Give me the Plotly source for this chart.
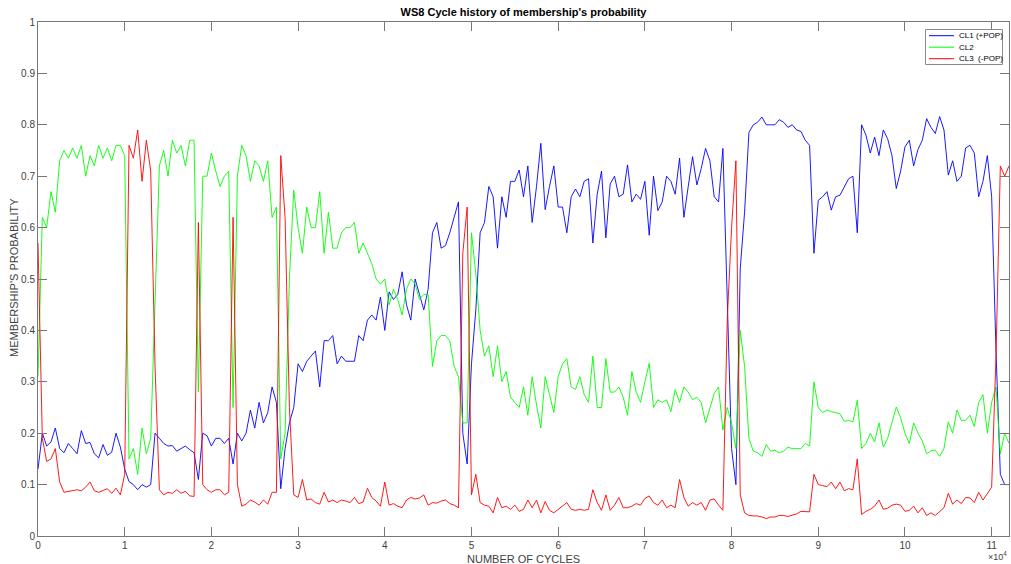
import plotly.graph_objects as go

# cycle counter (sampled every 500 cycles)
cycles = list(range(0, 112001, 500))

cl1_pop_plus = [
    0.13, 0.20, 0.175, 0.183, 0.21, 0.17, 0.162, 0.18, 0.17, 0.16,
    0.205, 0.18, 0.182, 0.16, 0.152, 0.178, 0.157, 0.163, 0.20, 0.173,
    0.13, 0.106, 0.10, 0.09, 0.10, 0.095, 0.10, 0.20, 0.19, 0.18,
    0.175, 0.176, 0.165, 0.17, 0.175, 0.168, 0.162, 0.11, 0.20, 0.195,
    0.175, 0.19, 0.19, 0.18, 0.19, 0.14, 0.20, 0.185, 0.20, 0.245,
    0.21, 0.26, 0.22, 0.24, 0.29, 0.26, 0.092, 0.17, 0.22, 0.25,
    0.335, 0.32, 0.34, 0.35, 0.36, 0.29, 0.38, 0.38, 0.39, 0.335,
    0.35, 0.34, 0.34, 0.34, 0.39, 0.38, 0.42, 0.43, 0.42, 0.465,
    0.40, 0.475, 0.46, 0.47, 0.514, 0.45, 0.42, 0.50, 0.47, 0.44,
    0.48, 0.59, 0.61, 0.56, 0.565, 0.59, 0.62, 0.65, 0.20, 0.14,
    0.335, 0.44, 0.59, 0.61, 0.68, 0.66, 0.56, 0.66, 0.62, 0.69,
    0.69, 0.712, 0.66, 0.72, 0.61, 0.68, 0.764, 0.635, 0.68, 0.72,
    0.64, 0.64, 0.59, 0.66, 0.675, 0.66, 0.69, 0.695, 0.57, 0.665,
    0.71, 0.58, 0.685, 0.70, 0.66, 0.665, 0.722, 0.65, 0.665, 0.655,
    0.69, 0.585, 0.70, 0.633, 0.65, 0.70, 0.69, 0.665, 0.735, 0.62,
    0.68, 0.738, 0.683, 0.715, 0.754, 0.73, 0.66, 0.65, 0.754, 0.45,
    0.17, 0.10, 0.52, 0.63, 0.785, 0.80, 0.805, 0.815, 0.80, 0.80,
    0.80, 0.81, 0.805, 0.795, 0.80, 0.79, 0.787, 0.77, 0.76, 0.55,
    0.653, 0.66, 0.67, 0.634, 0.66, 0.663, 0.68, 0.695, 0.70, 0.59,
    0.80, 0.78, 0.745, 0.776, 0.74, 0.79, 0.773, 0.74, 0.676, 0.71,
    0.757, 0.77, 0.72, 0.752, 0.77, 0.812, 0.795, 0.783, 0.816, 0.79,
    0.702, 0.73, 0.69, 0.70, 0.755, 0.76, 0.745, 0.66, 0.69, 0.74,
    0.66, 0.36, 0.12, 0.10, 0.10,
]

cl2 = [
    0.31, 0.62, 0.60, 0.67, 0.63, 0.73, 0.75, 0.735, 0.755, 0.735,
    0.76, 0.70, 0.74, 0.72, 0.76, 0.735, 0.755, 0.73, 0.76, 0.76,
    0.74, 0.15, 0.17, 0.12, 0.21, 0.16, 0.19, 0.47, 0.72, 0.75,
    0.70, 0.77, 0.745, 0.76, 0.72, 0.77, 0.77, 0.28, 0.70, 0.70,
    0.745, 0.71, 0.68, 0.70, 0.71, 0.25, 0.70, 0.76, 0.74, 0.69,
    0.73, 0.72, 0.69, 0.73, 0.62, 0.64, 0.15, 0.20, 0.50, 0.673,
    0.60, 0.55, 0.64, 0.60, 0.60, 0.67, 0.55, 0.63, 0.56, 0.56,
    0.59, 0.60, 0.60, 0.61, 0.55, 0.57, 0.55, 0.53, 0.50, 0.49,
    0.50, 0.45, 0.48, 0.46, 0.43, 0.48, 0.50, 0.49, 0.46, 0.47,
    0.47, 0.33, 0.38, 0.39, 0.39, 0.38, 0.33, 0.31, 0.22, 0.22,
    0.59, 0.51, 0.40, 0.35, 0.37, 0.31, 0.37, 0.30, 0.32, 0.27,
    0.26, 0.25, 0.29, 0.235, 0.31, 0.255, 0.21, 0.31, 0.275, 0.24,
    0.31, 0.335, 0.345, 0.29, 0.285, 0.31, 0.275, 0.26, 0.35, 0.25,
    0.25, 0.345, 0.28, 0.28, 0.29, 0.27, 0.235, 0.32, 0.28, 0.26,
    0.30, 0.336, 0.25, 0.265, 0.26, 0.265, 0.242, 0.285, 0.26, 0.29,
    0.28, 0.265, 0.27, 0.26, 0.22, 0.25, 0.277, 0.29, 0.206, 0.25,
    0.22, 0.17, 0.40, 0.33, 0.19, 0.165, 0.162, 0.155, 0.178, 0.165,
    0.167, 0.162, 0.165, 0.173, 0.17, 0.17, 0.17, 0.18, 0.175, 0.30,
    0.25, 0.24, 0.245, 0.242, 0.24, 0.238, 0.223, 0.225, 0.222, 0.264,
    0.17, 0.18, 0.20, 0.183, 0.22, 0.173, 0.19, 0.22, 0.251, 0.23,
    0.20, 0.18, 0.22, 0.20, 0.185, 0.160, 0.166, 0.167, 0.155, 0.17,
    0.222, 0.20, 0.245, 0.225, 0.225, 0.235, 0.213, 0.26, 0.275, 0.20,
    0.26, 0.29, 0.16, 0.20, 0.18,
]

cl3_pop_minus = [
    0.57, 0.19, 0.145, 0.15, 0.17, 0.105, 0.085, 0.087, 0.088, 0.09,
    0.088, 0.095, 0.105, 0.088, 0.085, 0.089, 0.092, 0.083, 0.093, 0.08,
    0.12, 0.76, 0.735, 0.79, 0.69, 0.77, 0.71, 0.33, 0.09, 0.08,
    0.085, 0.083, 0.09, 0.083, 0.087, 0.078, 0.077, 0.61, 0.10, 0.09,
    0.085, 0.09, 0.09, 0.08, 0.085, 0.62, 0.10, 0.058, 0.062, 0.07,
    0.066, 0.06, 0.07, 0.062, 0.085, 0.085, 0.74, 0.62, 0.25, 0.08,
    0.075, 0.11, 0.07, 0.072, 0.065, 0.062, 0.085, 0.066, 0.07, 0.065,
    0.07, 0.068, 0.065, 0.075, 0.063, 0.066, 0.093, 0.075, 0.068, 0.058,
    0.105, 0.06, 0.063, 0.058, 0.055, 0.07, 0.075, 0.072, 0.074, 0.08,
    0.06, 0.065, 0.064, 0.068, 0.07, 0.063, 0.06, 0.055, 0.55, 0.64,
    0.08, 0.12, 0.065, 0.06, 0.058, 0.045, 0.075, 0.055, 0.058, 0.052,
    0.06, 0.048, 0.052, 0.07, 0.055, 0.07, 0.045, 0.067, 0.05, 0.045,
    0.052, 0.058, 0.065, 0.052, 0.05, 0.052, 0.05, 0.052, 0.09, 0.065,
    0.05, 0.08, 0.05, 0.06, 0.075, 0.055, 0.055, 0.058, 0.063, 0.06,
    0.073, 0.078, 0.065, 0.06, 0.07, 0.055, 0.06, 0.055, 0.11, 0.075,
    0.058, 0.065, 0.06, 0.065, 0.05, 0.07, 0.072, 0.06, 0.05, 0.42,
    0.60, 0.73, 0.08, 0.045, 0.04, 0.039, 0.039, 0.037, 0.034, 0.037,
    0.037, 0.04, 0.04, 0.038, 0.04, 0.043, 0.048, 0.048, 0.047, 0.12,
    0.10, 0.098, 0.096, 0.105, 0.092, 0.105, 0.088, 0.092, 0.09, 0.15,
    0.042, 0.048, 0.052, 0.058, 0.07, 0.052, 0.054, 0.06, 0.062, 0.06,
    0.048, 0.05, 0.058, 0.045, 0.055, 0.04, 0.045, 0.04, 0.048, 0.055,
    0.083, 0.062, 0.07, 0.063, 0.075, 0.074, 0.065, 0.085, 0.07, 0.082,
    0.095, 0.35, 0.72, 0.70, 0.72,
]

series_names = ["CL1 (+POP)", "CL2", "CL3  (-POP)"]
series_colors = ["#0000ff", "#00ff00", "#ff0000"]

x_tick_vals = [0, 10000, 20000, 30000, 40000, 50000, 60000, 70000, 80000, 90000, 100000, 110000]
x_tick_text = ["0", "1", "2", "3", "4", "5", "6", "7", "8", "9", "10", "11"]
y_tick_vals = [0, 0.1, 0.2, 0.3, 0.4, 0.5, 0.6, 0.7, 0.8, 0.9, 1]
y_tick_text = ["0", "0.1", "0.2", "0.3", "0.4", "0.5", "0.6", "0.7", "0.8", "0.9", "1"]

FONT = "Liberation Sans, Arial, Helvetica, sans-serif"
AX = "#777777"
TXT = "#404040"

W, H = 1011, 564
L, R, T, B = 38, 2, 22, 28
PW, PH = W - L - R, H - T - B


def px_x(px):
    return (px - L) / PW


def px_y(py):
    return (H - B - py) / PH


fig = go.Figure()
for vals, name, col in zip([cl1_pop_plus, cl2, cl3_pop_minus], series_names, series_colors):
    fig.add_trace(go.Scatter(x=cycles, y=vals, mode="lines", name=name,
                             line=dict(color=col, width=0.9), showlegend=False))

annotations = [
    dict(text="NUMBER OF CYCLES", xref="paper", yref="paper", x=0.5,
         y=px_y(559), xanchor="center", yanchor="middle",
         showarrow=False, font=dict(family=FONT, size=11, color=TXT)),
    dict(text="MEMBERSHIP'S PROBABILITY", xref="paper", yref="paper",
         x=px_x(14), y=px_y(278),
         xanchor="center", yanchor="middle", textangle=-90,
         showarrow=False, font=dict(family=FONT, size=11, color=TXT)),
    dict(text="\u00d710<sup>4</sup>", xref="paper", yref="paper",
         x=px_x(1009), y=px_y(556),
         xanchor="right", yanchor="middle", showarrow=False,
         font=dict(family=FONT, size=9, color=TXT)),
]

# legend box (drawn to match the compact MATLAB legend)
shapes = [dict(type="rect", xref="paper", yref="paper",
               x0=px_x(925.5), x1=px_x(1002.5), y0=px_y(64.5), y1=px_y(29.5),
               line=dict(color="#8a8a8a", width=1), fillcolor="white", layer="above")]
for i, (name, col) in enumerate(zip(series_names, series_colors)):
    yy = 35.7 + i * 11.5
    shapes.append(dict(type="line", xref="paper", yref="paper",
                       x0=px_x(929), x1=px_x(954), y0=px_y(yy), y1=px_y(yy),
                       line=dict(color=col, width=1), layer="above"))
    annotations.append(dict(text=name, xref="paper", yref="paper",
                            x=px_x(956.5), y=px_y(yy), xanchor="left", yanchor="middle",
                            showarrow=False,
                            font=dict(family=FONT, size=8, color="#000000")))

fig.update_layout(
    width=W, height=H,
    margin=dict(l=L, r=R, t=T, b=B, autoexpand=False),
    paper_bgcolor="white", plot_bgcolor="white",
    font=dict(family=FONT, size=10, color=TXT),
    title=dict(text="<b>WS8 Cycle history of membership's probability</b>",
               x=(L + PW / 2) / W, xanchor="center",
               y=1 - 12 / H, yanchor="middle",
               font=dict(family=FONT, size=11, color="#000000")),
    showlegend=False,
    xaxis=dict(range=[0, 112000], tickmode="array", tickvals=x_tick_vals, ticktext=x_tick_text,
               showgrid=False, zeroline=False, showline=True, linecolor=AX, linewidth=1,
               mirror="allticks", ticks="inside", ticklen=9, tickcolor=AX, tickwidth=1,
               tickfont=dict(family=FONT, size=10, color=TXT)),
    yaxis=dict(range=[0, 1], tickmode="array", tickvals=y_tick_vals, ticktext=y_tick_text,
               showgrid=False, zeroline=False, showline=True, linecolor=AX, linewidth=1,
               mirror="allticks", ticks="inside", ticklen=9, tickcolor=AX, tickwidth=1,
               tickfont=dict(family=FONT, size=10, color=TXT)),
    annotations=annotations,
    shapes=shapes,
)

fig.write_html("out.html", config={"displayModeBar": False},
               post_script="document.body.style.margin='0';document.body.style.overflow='hidden';")
